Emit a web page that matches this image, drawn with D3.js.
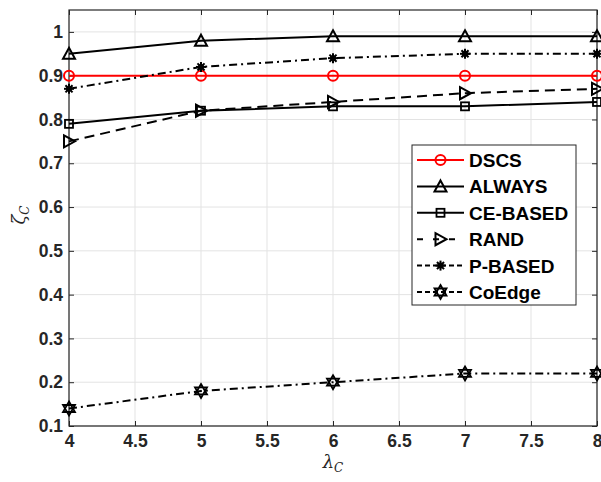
<!DOCTYPE html>
<html>
<head>
<meta charset="utf-8">
<script src="https://cdn.jsdelivr.net/npm/d3@7"></script>
<style>
body{margin:0;background:#fff;}
svg text{font-family:"Liberation Sans",Arial,sans-serif;}
</style>
</head>
<body>
<div id="chart"></div>
<script>
//data
const lambdas = [4, 5, 6, 7, 8];
const dscs = [0.9, 0.9, 0.9, 0.9, 0.9];
const always = [0.95, 0.98, 0.99, 0.99, 0.99];
const ceBased = [0.79, 0.82, 0.83, 0.83, 0.84];
const rand = [0.75, 0.82, 0.84, 0.86, 0.87];
const pBased = [0.87, 0.92, 0.94, 0.95, 0.95];
const coEdge = [0.14, 0.18, 0.20, 0.22, 0.22];
const xTicks = [4, 4.5, 5, 5.5, 6, 6.5, 7, 7.5, 8];
const yTicks = [0.1, 0.2, 0.3, 0.4, 0.5, 0.6, 0.7, 0.8, 0.9, 1];

const w = 601, h = 482;
const plotLeft = 69, plotRight = 597, plotTop = 10, plotBottom = 426;

const series = [
  {name:"DSCS", values:dscs, color:"#ff0000", dash:null, marker:"circle"},
  {name:"ALWAYS", values:always, color:"#000", dash:null, marker:"triangle"},
  {name:"CE-BASED", values:ceBased, color:"#000", dash:null, marker:"square"},
  {name:"RAND", values:rand, color:"#000", dash:"10,6", marker:"right"},
  {name:"P-BASED", values:pBased, color:"#000", dash:"8,4,2,4", marker:"asterisk"},
  {name:"CoEdge", values:coEdge, color:"#000", dash:"8,4,2,4", marker:"hexagram"}
];

const xScale = d3.scaleLinear().domain([4, 8]).range([plotLeft, plotRight]);
const yScale = d3.scaleLinear().domain([0.1, 1.05]).range([plotBottom, plotTop]);

const svg = d3.select("#chart").append("svg")
  .attr("width", w).attr("height", h);

//grid
svg.append("g").selectAll("line").data(xTicks).enter().append("line")
  .attr("x1", d=>xScale(d)).attr("x2", d=>xScale(d))
  .attr("y1", plotTop).attr("y2", plotBottom)
  .attr("stroke", "#e3e3e3").attr("stroke-width", 1);
svg.append("g").selectAll("line").data(yTicks).enter().append("line")
  .attr("y1", d=>yScale(d)).attr("y2", d=>yScale(d))
  .attr("x1", plotLeft).attr("x2", plotRight)
  .attr("stroke", "#e3e3e3").attr("stroke-width", 1);

//axes
const xAxis = d3.axisBottom(xScale).tickValues(xTicks).tickSize(-5).tickPadding(9)
  .tickFormat(d3.format("~g"));
const yAxis = d3.axisLeft(yScale).tickValues(yTicks).tickSize(-5).tickPadding(6)
  .tickFormat(d3.format("~g"));

function styleAxis(g){
  g.select(".domain").remove();
  g.selectAll(".tick line").attr("stroke", "#262626");
  g.selectAll(".tick text").attr("fill", "#262626")
    .style("font-size", "17.5px").style("font-weight", "bold");
}
svg.append("g").attr("transform", "translate(0," + plotBottom + ")").call(xAxis).call(styleAxis);
svg.append("g").attr("transform", "translate(0," + plotTop + ")")
  .call(d3.axisTop(xScale).tickValues(xTicks).tickSize(-5).tickFormat(""))
  .call(styleAxis);
svg.append("g").attr("transform", "translate(" + plotLeft + ",0)").call(yAxis).call(styleAxis);
svg.append("g").attr("transform", "translate(" + plotRight + ",0)")
  .call(d3.axisRight(yScale).tickValues(yTicks).tickSize(-5).tickFormat(""))
  .call(styleAxis);

svg.append("rect").attr("x", plotLeft).attr("y", plotTop)
  .attr("width", plotRight - plotLeft).attr("height", plotBottom - plotTop)
  .attr("fill", "none").attr("stroke", "#262626").attr("stroke-width", 1.2);

//axis labels
svg.append("text")
  .attr("transform", "translate(25,215) rotate(-90)")
  .attr("text-anchor", "middle")
  .style("font-family", "'DejaVu Serif',serif").style("font-style", "italic").style("font-size", "18px")
  .attr("fill", "#262626")
  .html('ζ<tspan font-size="12px" dy="4">C</tspan>');
svg.append("text")
  .attr("x", 333).attr("y", 468)
  .attr("text-anchor", "middle")
  .style("font-family", "'DejaVu Serif',serif").style("font-style", "italic").style("font-size", "18px")
  .attr("fill", "#262626")
  .html('λ<tspan font-size="12px" dy="4">C</tspan>');

//marker drawing
function drawMarker(g, type, x, y, color){
  if(type === "circle"){
    g.append("circle").attr("cx", x).attr("cy", y).attr("r", 5)
      .attr("fill", "none").attr("stroke", color).attr("stroke-width", 2);
  } else if(type === "triangle"){
    g.append("path").attr("d", `M${x},${y-6}L${x+6},${y+5}L${x-6},${y+5}Z`)
      .attr("fill", "none").attr("stroke", color).attr("stroke-width", 2);
  } else if(type === "square"){
    g.append("rect").attr("x", x-4).attr("y", y-4).attr("width", 8).attr("height", 8)
      .attr("fill", "none").attr("stroke", color).attr("stroke-width", 1.8);
  } else if(type === "right"){
    g.append("path").attr("d", `M${x-5},${y-6}L${x+6},${y}L${x-5},${y+6}Z`)
      .attr("fill", "none").attr("stroke", color).attr("stroke-width", 2);
  } else if(type === "asterisk"){
    for(let a = 0; a < 180; a += 45){
      const r = a * Math.PI / 180;
      g.append("line").attr("x1", x - 5*Math.cos(r)).attr("y1", y - 5*Math.sin(r))
        .attr("x2", x + 5*Math.cos(r)).attr("y2", y + 5*Math.sin(r))
        .attr("stroke", color).attr("stroke-width", 2);
    }
    g.append("circle").attr("cx", x).attr("cy", y).attr("r", 3).attr("fill", color);
  } else if(type === "hexagram"){
    g.append("path").attr("d", `M${x},${y-7}L${x+6},${y+3.5}L${x-6},${y+3.5}Z M${x},${y+7}L${x+6},${y-3.5}L${x-6},${y-3.5}Z`)
      .attr("fill", "none").attr("stroke", color).attr("stroke-width", 1.8);
  }
}

//lines
const line = d3.line().x((d,i)=>xScale(lambdas[i])).y(d=>yScale(d));
series.forEach(s=>{
  svg.append("path").datum(s.values)
    .attr("d", line).attr("fill", "none")
    .attr("stroke", s.color).attr("stroke-width", 2)
    .attr("stroke-dasharray", s.dash);
  const g = svg.append("g");
  s.values.forEach((v,i)=>drawMarker(g, s.marker, xScale(lambdas[i]), yScale(v), s.color));
});

//legend
const legend = svg.append("g");
legend.append("rect").attr("x", 412).attr("y", 145).attr("width", 164).attr("height", 160)
  .attr("fill", "#fff").attr("stroke", "#262626").attr("stroke-width", 1);
series.forEach((s,i)=>{
  const y = 160 + i * 26.4;
  legend.append("line").attr("x1", 417).attr("x2", 464).attr("y1", y).attr("y2", y)
    .attr("stroke", s.color).attr("stroke-width", 2)
    .attr("stroke-dasharray", s.dash ? (s.marker === "right" ? "6,10" : "5,3") : null);
  drawMarker(legend, s.marker, 440.5, y, s.color);
  legend.append("text").attr("x", 469).attr("y", y + 7)
    .style("font-size", "19px").style("font-weight", "bold").attr("fill", "#000")
    .text(s.name);
});
</script>
</body>
</html>
